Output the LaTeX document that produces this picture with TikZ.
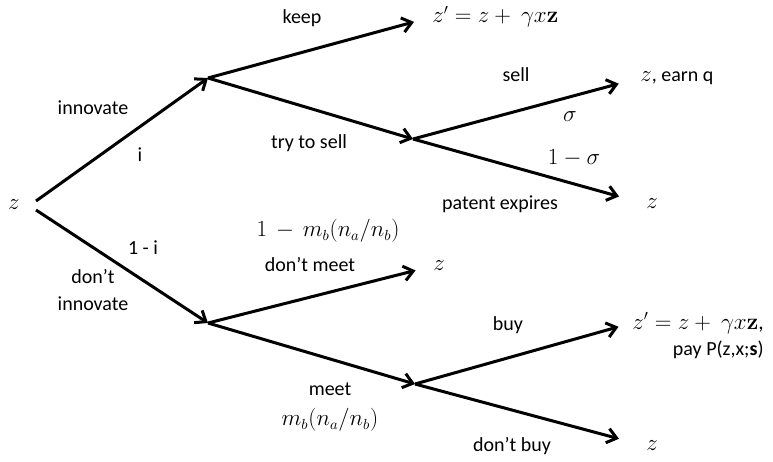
\documentclass[tikz,border=0pt]{standalone}
\usepackage[no-math]{fontspec}
\setmainfont{Carlito}
\usetikzlibrary{arrows.meta}
\tikzset{
  br/.style={line width=2.25pt, -{Straight Barb[length=7pt,width=11pt]}},
  lbl/.style={font=\fontsize{15}{18}\selectfont, inner sep=0pt},
  mth/.style={lbl, font=\fontsize{16}{19}\selectfont},
  leaf/.style={mth, anchor=west},
}
\begin{document}
\begin{tikzpicture}[x=0.75pt, y=-0.75pt]
	\useasboundingbox (0,0) rectangle (773,461);
	% forks
	\node[mth] (root) at (14,205){$z$};
	\coordinate (rootup) at (36,201);
	\coordinate (rootdn) at (36,210);
	\coordinate (inno) at (208,78);
	\coordinate (noinno) at (208,323);
	\coordinate (trysell) at (413,139);
	\coordinate (meet) at (415,384);
	% outcomes
	\node[leaf] (keepres) at (432,17){$z' = z + \ \gamma x\mathbf{z}$};
	\node[leaf] (earn) at (640,78){$z$\fontsize{15}{18}\selectfont, earn q};
	\node[leaf] (expres) at (646,204){$z$};
	\node[leaf] (nomeetres) at (433,266){$z$};
	\node[leaf] (buyres) at (632,323){$z' = z + \ \gamma x\mathbf{z}$,};
	\node[lbl, anchor=north east] (pay) at ([yshift=-5pt]buyres.south east){pay P(z,x;\textbf{s})};
	\node[leaf] (nobuyres) at (646,446){$z$};
	% branches
	\draw[br] (rootup) -- (inno);
	\draw[br] (rootdn) -- (noinno);
	\draw[br, shorten >=14pt] (inno) -- (keepres.west);
	\draw[br] (inno) -- (trysell);
	\draw[br, shorten >=16.5pt] (trysell) -- (earn.west);
	\draw[br, shorten >=21pt] (trysell) -- (expres.west);
	\draw[br, shorten >=13.5pt] (noinno) -- (nomeetres.west);
	\draw[br] (noinno) -- (meet);
	\draw[br, shorten >=10.5pt] (meet) -- (buyres.west);
	\draw[br, shorten >=21pt] (meet) -- (nobuyres.west);
	% labels
	\node[lbl] (innolbl) at (93,108){innovate};
	\node[lbl] (ilbl) at (140,155){i};
	\node[lbl] (notilbl) at (143,248){1 - i};
	\node[lbl, align=center, font=\fontsize{15}{20}\selectfont] (noinnolbl) at (93,290){don’t\\innovate};
	\node[lbl] (keeplbl) at (302,18){keep};
	\node[lbl] (trylbl) at (309,143){try to sell};
	\node[lbl] (selllbl) at (516,75){sell};
	\node[mth] (sigma) at (570,117){$\sigma$};
	\node[mth] (notsigma) at (574,158){$1-\sigma$};
	\node[lbl] (explbl) at (500,204){patent expires};
	\node[mth] (nomeetprob) at (328,231){$1\,-\,m_b(n_a/n_b)$};
	\node[lbl] (nomeetlbl) at (310,265){don’t meet};
	\node[lbl] (meetlbl) at (330,389){meet};
	\node[mth] (meetprob) at (330,420){$m_b(n_a/n_b)$};
	\node[lbl] (buylbl) at (508,325){buy};
	\node[lbl] (nobuylbl) at (512,446){don’t buy};
\end{tikzpicture}
\end{document}
